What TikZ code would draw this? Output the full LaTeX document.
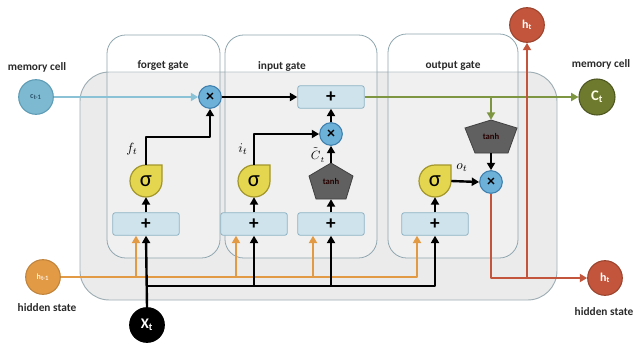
\documentclass[tikz,border=0pt]{standalone}
\usepackage{fontspec}
\setmainfont{Carlito}
\usetikzlibrary{arrows.meta,calc}
\definecolor{bigfill}{HTML}{EBEBEB}
\definecolor{bigdraw}{HTML}{9FAEB4}
\definecolor{gatedraw}{HTML}{8FA6AF}
\definecolor{cfill}{HTML}{7DB9D0}
\definecolor{cdraw}{HTML}{5E9CB6}
\definecolor{ctext}{HTML}{2E5670}
\definecolor{blueline}{HTML}{8CC2D6}
\definecolor{olivefill}{HTML}{6E7B2E}
\definecolor{oliveline}{HTML}{7E9642}
\definecolor{redc}{HTML}{C2553B}
\definecolor{orangec}{HTML}{E29A45}
\definecolor{multfill}{HTML}{6DB0D8}
\definecolor{multdraw}{HTML}{3F80AE}
\definecolor{plusfill}{HTML}{CFE3EC}
\definecolor{plusdraw}{HTML}{8FB3C4}
\definecolor{sigfill}{HTML}{E4D64E}
\definecolor{sigdraw}{HTML}{A3962C}
\definecolor{tanhfill}{HTML}{606060}
\definecolor{tanhdraw}{HTML}{404040}
\definecolor{labelcol}{HTML}{2A2A2A}
\newcommand\sigshape[2]{\draw[sigsh] (#1,#2-16) -- (#1+16,#2-16) -- (#1+16,#2) arc[start angle=0,end angle=-270,radius=12pt] -- cycle;}
\begin{document}
\begin{tikzpicture}[x=0.75pt,y=-0.75pt,
  lbl/.style={font=\bfseries\fontsize{8.5}{10}\selectfont, text=labelcol, inner sep=0},
  mult/.style={circle, fill=multfill, draw=multdraw, line width=0.8pt, minimum size=17pt, inner sep=0, font=\bfseries\fontsize{12}{12}\selectfont},
  plusbox/.style={rectangle, rounded corners=2pt, fill=plusfill, draw=plusdraw, line width=0.6pt, minimum width=50pt, minimum height=17pt, inner sep=0, font=\bfseries\Large},
  sig/.style={circle, minimum size=24pt, inner sep=0, font=\fontsize{17}{17}\selectfont},
  sigsh/.style={fill=sigfill, draw=sigdraw, line width=0.9pt},
  pent/.style={fill=tanhfill, draw=tanhdraw, line width=0.6pt},
  tanhnode/.style={rectangle, inner sep=0, font=\bfseries\fontsize{6.5}{7}\selectfont, text=black!85!red},
  state/.style={circle, minimum size=26pt, inner sep=0, line width=0.8pt},
  arr/.style={line width=1.8pt, line join=round, -{Triangle[length=5.5pt,width=6pt]}},
  bluel/.style={line width=2pt, draw=blueline, -{Triangle[length=5.5pt,width=6pt]}},
  greenl/.style={line width=2pt, draw=oliveline, -{Triangle[length=5.5pt,width=6pt]}},
  redl/.style={line width=2.2pt, draw=redc, line join=round, -{Triangle[length=5.5pt,width=6pt]}},
  orl/.style={line width=2pt, draw=orangec, line join=round, -{Triangle[length=5.5pt,width=6pt]}},
  gate/.style={draw=gatedraw, line width=0.6pt, fill=white, fill opacity=0.25, rounded corners=14pt},
  sub/.style={font=\fontsize{10}{10}\selectfont, inner sep=0}
]
\useasboundingbox (0,0) rectangle (643,347);
\fill[white] (0,0) rectangle (643,347);
% main cell
\draw[fill=bigfill, draw=bigdraw, line width=0.7pt, rounded corners=22pt] (80,72) rectangle (557,300);
% gates
\draw[gate] (107,35) rectangle (220,258);
\draw[gate] (225,35) rectangle (377,258);
\draw[gate] (388,34) rectangle (518,258);
\node[lbl] (lF) at (163,66) {forget gate};
\node[lbl] (lI) at (282,66) {input gate};
\node[lbl] (lO) at (453,66) {output gate};
\node[lbl] (lM1) at (37,67) {memory cell};
\node[lbl] (lM2) at (601,64) {memory cell};
\node[lbl] (lH1) at (47,308) {hidden state};
\node[lbl] (lH2) at (604,312) {hidden state};
% shapes
\sigshape{146}{181}
\sigshape{254}{181}
\sigshape{435}{181}
\draw[pent] (331,163) -- (353,176) -- (346,199) -- (316,199) -- (309,176) -- cycle;
\draw[pent] (491,120) -- (517,128) -- (508,153) -- (475,153) -- (465,128) -- cycle;
% nodes
\node[state, fill=cfill, draw=cdraw, text=ctext, font=\bfseries\fontsize{6}{6}\selectfont] (cprev) at (36,97) {c\textsubscript{t-1}};
\node[state, fill=olivefill, draw=olivefill!70!black, text=white!90!yellow, font=\bfseries\fontsize{11}{11}\selectfont, minimum size=27pt] (Ct) at (597,97) {C\textsubscript{t}};
\node[state, fill=redc, draw=redc!80!black, text=white, font=\bfseries\fontsize{9}{9}\selectfont] (htTop) at (527,25) {h\textsubscript{t}};
\node[state, fill=redc, draw=redc!80!black, text=white, font=\bfseries\fontsize{9}{9}\selectfont] (ht) at (605,278) {h\textsubscript{t}};
\node[state, fill=orangec, draw=orangec!85!black, text=white!85!orangec, font=\bfseries\fontsize{6}{6}\selectfont] (hprev) at (43,277) {h\textsubscript{t-1}};
\node[state, fill=black, draw=black, text=white, font=\bfseries\fontsize{11}{11}\selectfont] (xt) at (147,325) {X\textsubscript{t}};
\node[mult] (xF) at (210,97) {×};
\node[mult] (xI) at (331,134) {×};
\node[mult] (xO) at (491,182) {×};
\node[plusbox] (plusT) at (331,97) {+};
\node[plusbox] (plusF) at (146,224) {+};
\node[plusbox] (plusI1) at (254,224) {+};
\node[plusbox] (plusI2) at (331,224) {+};
\node[plusbox] (plusO) at (435,224) {+};
\node[sig] (sigF) at (146,181) {σ};
\node[sig] (sigI) at (254,181) {σ};
\node[sig] (sigO) at (435,181) {σ};
\node[tanhnode, minimum width=30pt, minimum height=27pt] (tanhI) at (331,181) {tanh};
\node[tanhnode, minimum width=30pt, minimum height=24.75pt] (tanhO) at (491,136.5) {tanh};
\node[sub] (ftl) at (132,149) {$f_t$};
\node[sub] (itl) at (243,149) {$i_t$};
\node[sub, font=\fontsize{9}{9}\selectfont] (ctl) at (318,155) {$\tilde{\mathstrut C}_t$};
\node[sub] (otl) at (462,168) {$o_t$};
% coordinates
\coordinate (gJ) at (491,97);
\coordinate (rJ) at (491,278);
\coordinate (rV) at (527,278);
\coordinate (oF) at (136,277);
\coordinate (oI1) at (236,277);
\coordinate (oI2) at (313,277);
\coordinate (bJ) at (146,286);
\coordinate (bI1) at (254,286);
\coordinate (bI2) at (331,286);
% top lines
\draw[bluel] (cprev.east) -- (xF.west);
\draw[arr] (xF.east) -- (plusT.west);
\draw[greenl] (plusT.east) -- (Ct.west);
\draw[greenl] (gJ) -- (tanhO.north);
% red
\draw[redl] (xO.south) -- (rJ) -- (ht.west);
\draw[redl] (rV) -- (htTop.south);
% orange
\draw[orl] (hprev.east) -| ($(plusO.south)+(-18,0)$);
\draw[orl] (oF) -- ($(plusF.south)+(-10,0)$);
\draw[orl] (oI1) -- ($(plusI1.south)+(-18,0)$);
\draw[orl] (oI2) -- ($(plusI2.south)+(-18,0)$);
% black bottom
\draw[arr] (xt.north) -- (plusF.south);
\draw[arr] (bJ) -| (plusO.south);
\draw[arr] (bI1) -- (plusI1.south);
\draw[arr] (bI2) -- (plusI2.south);
% inner arrows
\draw[arr] (plusF.north) -- (sigF.south);
\draw[arr] (plusI1.north) -- (sigI.south);
\draw[arr] (plusI2.north) -- (tanhI.south);
\draw[arr] (plusO.north) -- (sigO.south);
\draw[arr] (sigF.north) -- ++(0,-28) -| (xF.south);
\draw[arr] (sigI.north) |- (xI.west);
\draw[arr] (tanhI.north) -- (xI.south);
\draw[arr] (xI.north) -- (plusT.south);
\draw[arr] (sigO.east) -- (xO.west);
\draw[arr] (tanhO.south) -- (xO.north);
\end{tikzpicture}
\end{document}
